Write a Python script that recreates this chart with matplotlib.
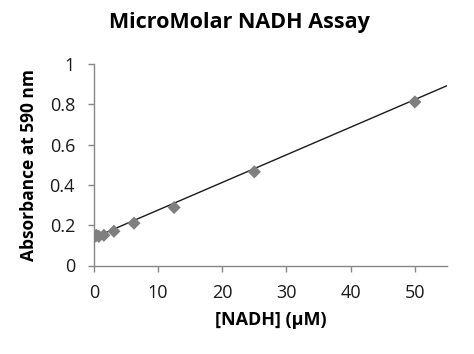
import matplotlib
matplotlib.use("Agg")
import matplotlib.pyplot as plt
import numpy as np

# NADH standard curve
nadh_um = [0, 0.39, 0.78, 1.56, 3.125, 6.25, 12.5, 25, 50]
absorbance = [0.14, 0.15, 0.145, 0.15, 0.17, 0.21, 0.288, 0.465, 0.812]

# linear trendline as shown on the chart
trend_slope = 0.01372
trend_intercept = 0.138
trend_x = [0, 55]

x_ticks = [0, 10, 20, 30, 40, 50]
y_ticks = [0, 0.2, 0.4, 0.6, 0.8, 1]
y_tick_labels = ["0", "0.2", "0.4", "0.6", "0.8", "1"]

plt.rcParams["font.family"] = ["Open Sans", "DejaVu Sans"]

fig = plt.figure(figsize=(4.74, 3.54), dpi=100)
ax = fig.add_axes([0.198, 0.25, 0.745, 0.569])

xs = np.array(trend_x, dtype=float)
ax.plot(xs, trend_slope * xs + trend_intercept, color="#1a1a1a", linewidth=1.0, zorder=2)
ax.scatter(nadh_um, absorbance, marker="D", s=45, color="#7f7f7f", edgecolor="none", zorder=3)

ax.set_xlim(0, 55)
ax.set_ylim(0, 1)
ax.set_xticks(x_ticks)
ax.set_yticks(y_ticks)
ax.set_yticklabels(y_tick_labels)

for s in ["top", "right"]:
    ax.spines[s].set_visible(False)
for s in ["left", "bottom"]:
    ax.spines[s].set_color("#878787")
    ax.spines[s].set_linewidth(1.0)
ax.tick_params(axis="both", colors="#878787", labelcolor="#1a1a1a",
               labelsize=13, length=4.5, width=1.0, direction="out", pad=9)

ax.set_xlabel("[NADH] (\u00b5M)", fontsize=13, fontweight="bold", labelpad=6)
ax.set_ylabel("Absorbance at 590 nm", fontsize=12.5, fontweight="bold", labelpad=8)
fig.suptitle("MicroMolar NADH Assay", fontsize=15.5, fontweight="bold",
             x=0.506, y=0.965)

fig.savefig("out.png", dpi=100)
